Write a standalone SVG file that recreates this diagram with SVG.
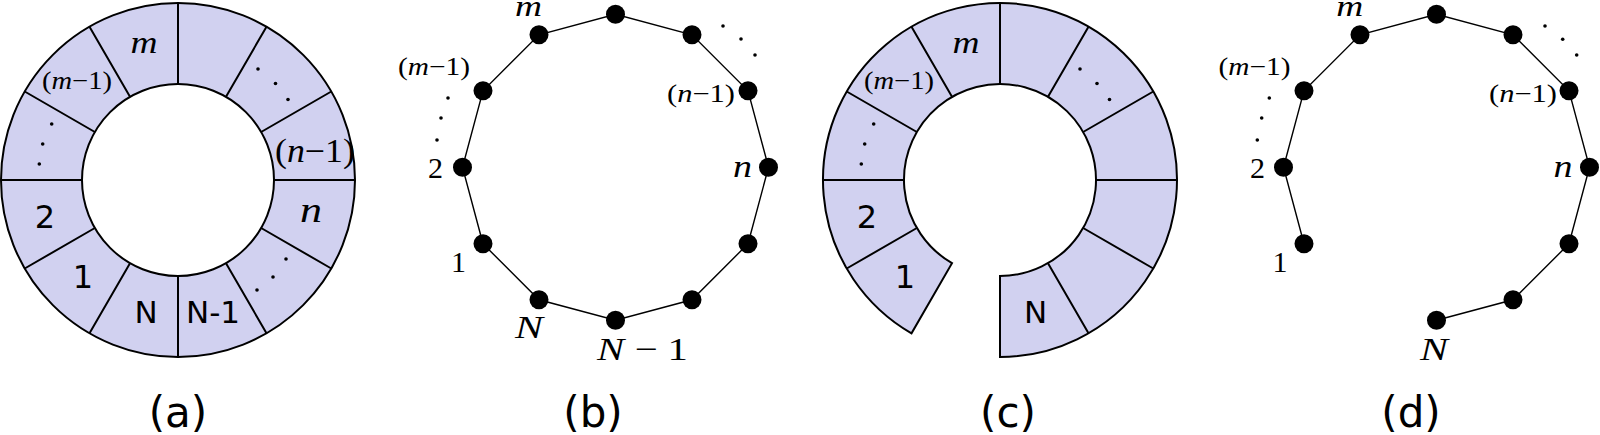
<svg xmlns="http://www.w3.org/2000/svg" width="1600" height="435" viewBox="0 0 1600 435">
<style>
.ring{fill:#d1d1f0;stroke:#000;stroke-width:2}
.hole{fill:#fff;stroke:#000;stroke-width:2}
.rad{stroke:#000;stroke-width:2;fill:none}
.edge{stroke:#000;stroke-width:1.4;fill:none}
.node{fill:#000}
.dot{fill:#000}
.sans{font-family:"DejaVu Sans","Liberation Sans",sans-serif;fill:#000;text-anchor:middle}
.math{font-family:"Liberation Serif","Times New Roman",serif;fill:#000;text-anchor:middle}
.mathL{font-family:"Liberation Serif","Times New Roman",serif;fill:#000;text-anchor:start}
.it{font-style:italic}
.cap{font-family:"DejaVu Sans","Liberation Sans",sans-serif;font-size:42px;fill:#000;text-anchor:middle}
</style>

<!-- (a) full ring -->
<g id="ring-a">
  <circle class="ring" cx="178" cy="180" r="177"/>
  <circle class="hole" cx="178" cy="180" r="96"/>
  <path class="rad" d="M274,180L355,180 M261.14,132L331.29,91.5 M226,96.86L266.5,26.71 M178,84L178,3 M130,96.86L89.5,26.71 M94.86,132L24.71,91.5 M82,180L1,180 M94.86,228L24.71,268.5 M130,263.14L89.5,333.29 M178,276L178,357 M226,263.14L266.5,333.29 M261.14,228L331.29,268.5"/>
  <g id="a-m"><text class="mathL it" x="130.5" y="53" font-size="31" textLength="27" lengthAdjust="spacingAndGlyphs">m</text></g>
  <g id="a-m1"><text class="mathL" x="42" y="89" font-size="25" textLength="70" lengthAdjust="spacingAndGlyphs">(<tspan class="it">m</tspan>−1)</text></g>
  <g id="a-dots-left"><circle class="dot" cx="51.7" cy="124" r="1.8"/><circle class="dot" cx="42.7" cy="144" r="1.8"/><circle class="dot" cx="39.3" cy="164" r="1.8"/></g>
  <g id="a-2"><text class="sans" x="45" y="228" font-size="32">2</text></g>
  <g id="a-1"><text class="sans" x="83" y="288" font-size="32">1</text></g>
  <g id="a-N"><text class="sans" x="146" y="323" font-size="31">N</text></g>
  <g id="a-N-1"><text class="sans" x="213" y="323" font-size="31">N-1</text></g>
  <g id="a-dots-br"><circle class="dot" cx="286" cy="259" r="1.8"/><circle class="dot" cx="273" cy="277" r="1.8"/><circle class="dot" cx="257" cy="290" r="1.8"/></g>
  <g id="a-n"><text class="mathL it" x="300" y="221.5" font-size="36" textLength="22" lengthAdjust="spacingAndGlyphs">n</text></g>
  <g id="a-n1"><text class="mathL" x="275" y="161.5" font-size="33" textLength="80" lengthAdjust="spacingAndGlyphs">(<tspan class="it">n</tspan>−1)</text></g>
  <g id="a-dots-tr"><circle class="dot" cx="258" cy="69" r="1.8"/><circle class="dot" cx="275.5" cy="83.5" r="1.8"/><circle class="dot" cx="288" cy="99.5" r="1.8"/></g>
</g>

<!-- (b) cycle graph -->
<g id="graph-b">
  <g id="b-edges">
    <polygon class="edge" points="768.5,167.3 748,90.8 692,34.8 615.5,14.3 539,34.8 483,90.8 462.5,167.3 483,243.8 539,299.8 615.5,320.3 692,299.8 748,243.8"/>
  </g>
  <g id="b-node-n"><circle class="node" cx="768.5" cy="167.3" r="9.5"/><text class="mathL it" x="733" y="177" font-size="31" textLength="19" lengthAdjust="spacingAndGlyphs">n</text></g>
  <g id="b-node-n1"><circle class="node" cx="748" cy="90.8" r="9.5"/><text class="mathL" x="667" y="102" font-size="25" textLength="68" lengthAdjust="spacingAndGlyphs">(<tspan class="it">n</tspan>−1)</text></g>
  <g id="b-node-60"><circle class="node" cx="692" cy="34.8" r="9.5"/></g>
  <g id="b-node-top"><circle class="node" cx="615.5" cy="14.3" r="9.5"/></g>
  <g id="b-node-m"><circle class="node" cx="539" cy="34.8" r="9.5"/><text class="mathL it" x="515" y="16" font-size="29" textLength="27" lengthAdjust="spacingAndGlyphs">m</text></g>
  <g id="b-node-m1"><circle class="node" cx="483" cy="90.8" r="9.5"/><text class="mathL" x="398" y="75" font-size="25" textLength="72" lengthAdjust="spacingAndGlyphs">(<tspan class="it">m</tspan>−1)</text></g>
  <g id="b-node-2"><circle class="node" cx="462.5" cy="167.3" r="9.5"/><text class="math" x="435.5" y="177.5" font-size="30">2</text></g>
  <g id="b-node-1"><circle class="node" cx="483" cy="243.8" r="9.5"/><text class="math" x="458.5" y="272" font-size="30">1</text></g>
  <g id="b-node-N"><circle class="node" cx="539" cy="299.8" r="9.5"/><text class="mathL it" x="515" y="338" font-size="32" textLength="28" lengthAdjust="spacingAndGlyphs">N</text></g>
  <g id="b-node-N-1"><circle class="node" cx="615.5" cy="320.3" r="9.5"/><text class="mathL" x="597" y="360" font-size="32" textLength="91" lengthAdjust="spacingAndGlyphs"><tspan class="it">N</tspan> − 1</text></g>
  <g id="b-node-300"><circle class="node" cx="692" cy="299.8" r="9.5"/></g>
  <g id="b-node-330"><circle class="node" cx="748" cy="243.8" r="9.5"/></g>
  <g id="b-dots"><circle class="dot" cx="723" cy="26" r="1.8"/><circle class="dot" cx="741" cy="39" r="1.8"/><circle class="dot" cx="755" cy="55" r="1.8"/><circle class="dot" cx="448" cy="98" r="1.8"/><circle class="dot" cx="441" cy="118" r="1.8"/><circle class="dot" cx="437" cy="140" r="1.8"/></g>
</g>

<!-- (c) ring with gap -->
<g id="ring-c">
  <path class="ring" d="M1000,357 A177,177 0 1 0 911.5,333.29 L952,263.14 A96,96 0 1 1 1000,276 Z"/>
  <path class="rad" d="M1096,180L1177,180 M1083.14,132L1153.29,91.5 M1048,96.86L1088.5,26.71 M1000,84L1000,3 M952,96.86L911.5,26.71 M916.86,132L846.71,91.5 M904,180L823,180 M916.86,228L846.71,268.5 M1048,263.14L1088.5,333.29 M1083.14,228L1153.29,268.5"/>
  <g id="c-m"><text class="mathL it" x="952.5" y="53" font-size="31" textLength="27" lengthAdjust="spacingAndGlyphs">m</text></g>
  <g id="c-m1"><text class="mathL" x="864" y="89" font-size="25" textLength="70" lengthAdjust="spacingAndGlyphs">(<tspan class="it">m</tspan>−1)</text></g>
  <g id="c-dots-left"><circle class="dot" cx="873.7" cy="124" r="1.8"/><circle class="dot" cx="864.7" cy="144" r="1.8"/><circle class="dot" cx="861.3" cy="164" r="1.8"/></g>
  <g id="c-2"><text class="sans" x="867" y="228" font-size="32">2</text></g>
  <g id="c-1"><text class="sans" x="905" y="288" font-size="32">1</text></g>
  <g id="c-N"><text class="sans" x="1035.5" y="323" font-size="31">N</text></g>
  <g id="c-dots-tr"><circle class="dot" cx="1080" cy="69" r="1.8"/><circle class="dot" cx="1097" cy="83.5" r="1.8"/><circle class="dot" cx="1109.5" cy="99.5" r="1.8"/></g>
</g>

<!-- (d) path graph -->
<g id="graph-d">
  <g id="d-edges">
    <polyline class="edge" points="1304,243.8 1283.5,167.3 1304,90.8 1360,34.8 1436.5,14.3 1513,34.8 1569,90.8 1589.5,167.3 1569,243.8 1513,299.8 1436.5,320.3"/>
  </g>
  <g id="d-node-1"><circle class="node" cx="1304" cy="243.8" r="9.5"/><text class="math" x="1280" y="272" font-size="30">1</text></g>
  <g id="d-node-2"><circle class="node" cx="1283.5" cy="167.3" r="9.5"/><text class="math" x="1257.5" y="177.5" font-size="30">2</text></g>
  <g id="d-node-m1"><circle class="node" cx="1304" cy="90.8" r="9.5"/><text class="mathL" x="1218.5" y="75" font-size="25" textLength="72" lengthAdjust="spacingAndGlyphs">(<tspan class="it">m</tspan>−1)</text></g>
  <g id="d-node-m"><circle class="node" cx="1360" cy="34.8" r="9.5"/><text class="mathL it" x="1336.2" y="16" font-size="29" textLength="27" lengthAdjust="spacingAndGlyphs">m</text></g>
  <g id="d-node-top"><circle class="node" cx="1436.5" cy="14.3" r="9.5"/></g>
  <g id="d-node-60"><circle class="node" cx="1513" cy="34.8" r="9.5"/></g>
  <g id="d-node-n1"><circle class="node" cx="1569" cy="90.8" r="9.5"/><text class="mathL" x="1489" y="102" font-size="25" textLength="68" lengthAdjust="spacingAndGlyphs">(<tspan class="it">n</tspan>−1)</text></g>
  <g id="d-node-n"><circle class="node" cx="1589.5" cy="167.3" r="9.5"/><text class="mathL it" x="1553.5" y="177" font-size="31" textLength="19" lengthAdjust="spacingAndGlyphs">n</text></g>
  <g id="d-node-330"><circle class="node" cx="1569" cy="243.8" r="9.5"/></g>
  <g id="d-node-300"><circle class="node" cx="1513" cy="299.8" r="9.5"/></g>
  <g id="d-node-N"><circle class="node" cx="1436.5" cy="320.3" r="9.5"/><text class="mathL it" x="1420" y="360" font-size="32" textLength="28" lengthAdjust="spacingAndGlyphs">N</text></g>
  <g id="d-dots"><circle class="dot" cx="1545" cy="26" r="1.8"/><circle class="dot" cx="1562.7" cy="39.3" r="1.8"/><circle class="dot" cx="1576.7" cy="55" r="1.8"/><circle class="dot" cx="1269.3" cy="98" r="1.8"/><circle class="dot" cx="1261.7" cy="118" r="1.8"/><circle class="dot" cx="1257.3" cy="140" r="1.8"/></g>
</g>

<!-- captions -->
<g id="captions">
  <text class="cap" x="178" y="427">(a)</text>
  <text class="cap" x="593" y="427">(b)</text>
  <text class="cap" x="1008" y="427">(c)</text>
  <text class="cap" x="1411" y="427">(d)</text>
</g>
</svg>
